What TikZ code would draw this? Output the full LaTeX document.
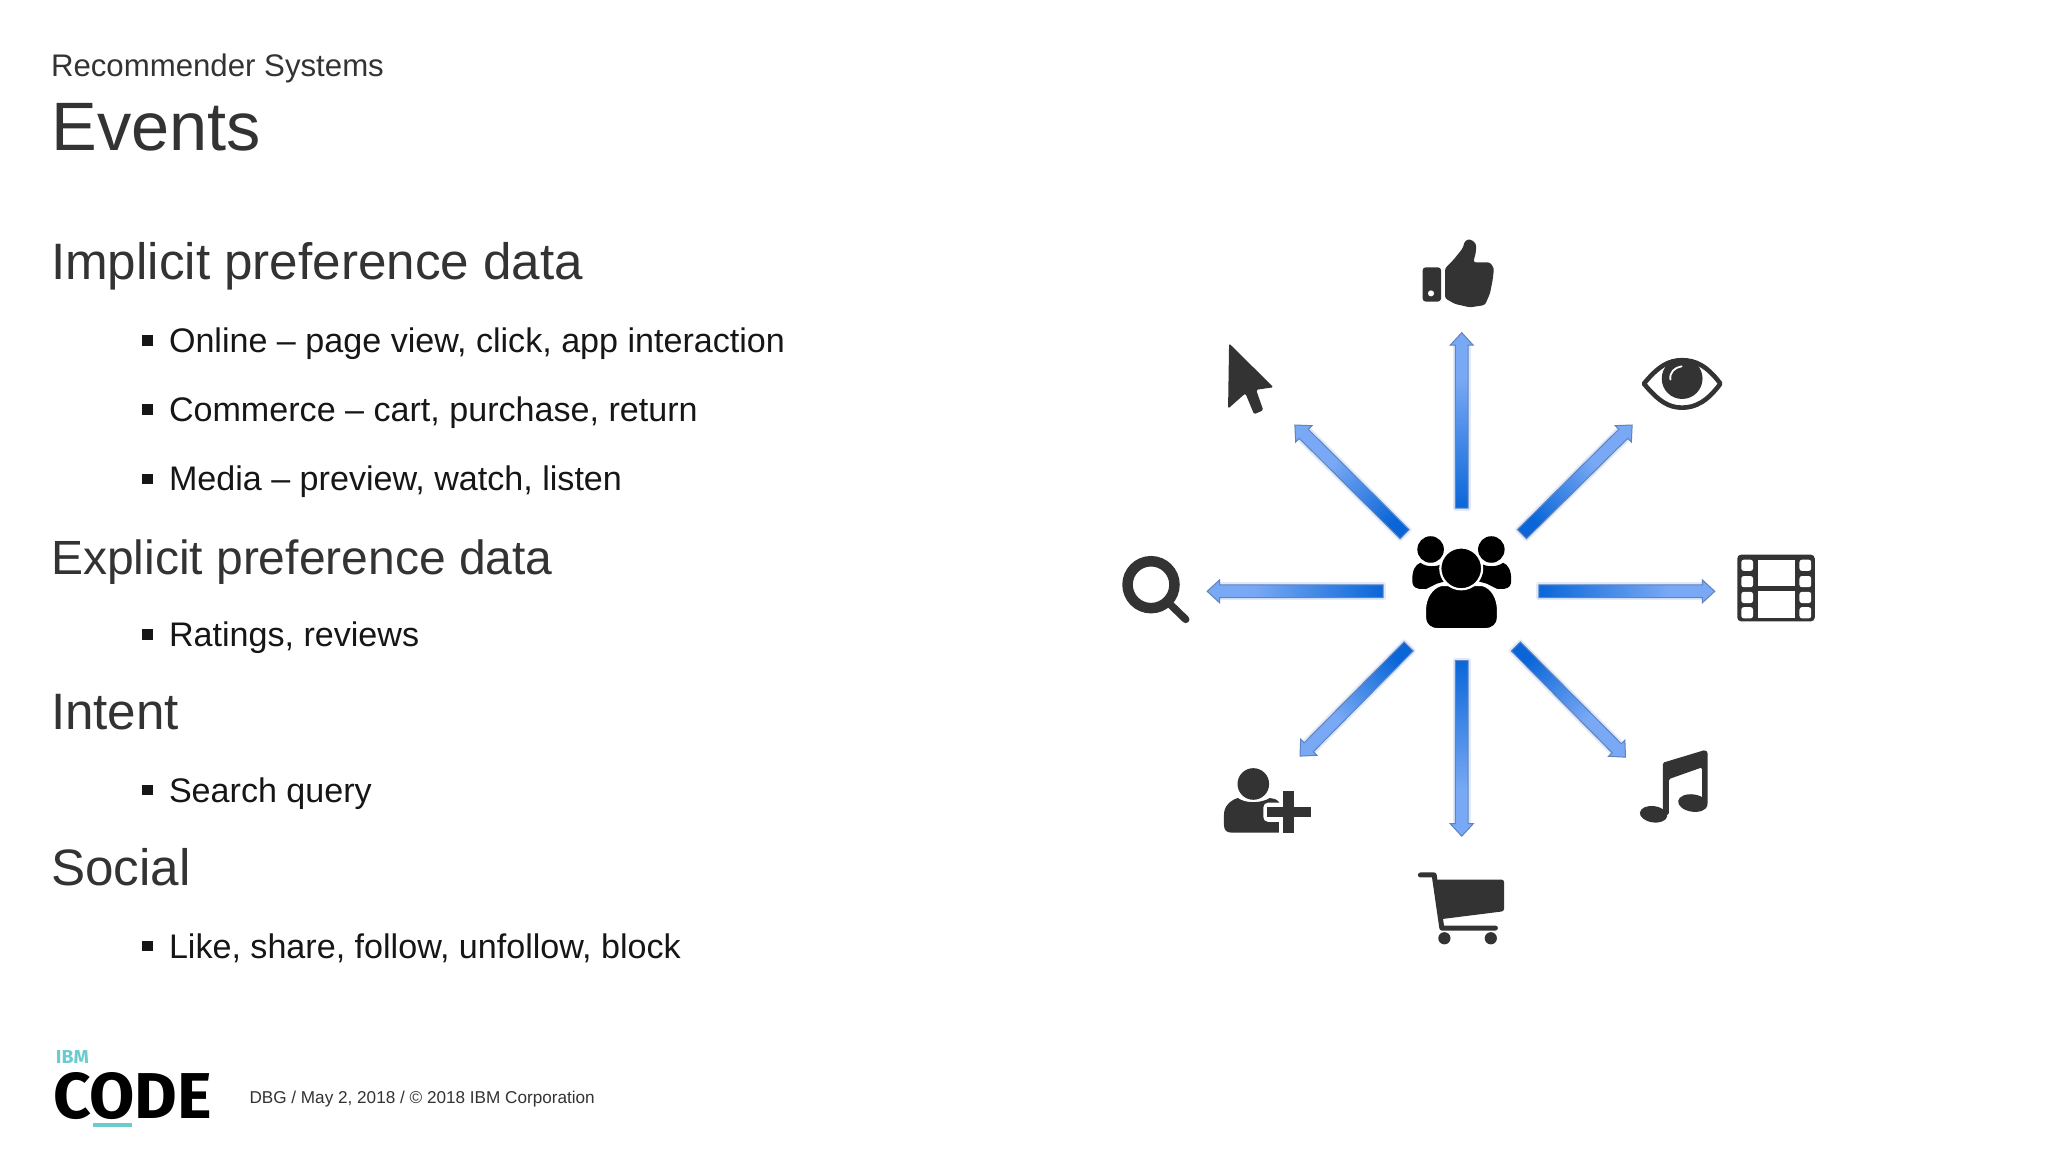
\documentclass[tikz,border=0pt]{standalone}
\usepackage{fontspec}
\setmainfont{Liberation Sans}
\newfontfamily\logofont{Fira Sans}
\usetikzlibrary{calc}
\definecolor{ink}{HTML}{333333}
\definecolor{txt}{HTML}{161616}
\definecolor{adark}{HTML}{0A66D8}
\definecolor{alight}{HTML}{79A9F4}
\definecolor{aedge}{HTML}{5F82C0}
\definecolor{aglow}{HTML}{8FB2EA}
\definecolor{teal}{HTML}{6CCBCF}
\pgfdeclarehorizontalshading{arrowgrad}{100bp}{color(0bp)=(adark); color(25bp)=(adark); color(62bp)=(alight); color(100bp)=(alight)}
\tikzset{
  px/.style={x=1pt,y=-1pt},
  zoomed/.style={shift={(1100,200)},x=0.5102pt,y=-0.5102pt},
  lab/.style={inner sep=0pt,outer sep=0pt,anchor=base west},
  head/.style={lab,text=ink,font=\fontsize{51.2}{60}\selectfont},
  item/.style={lab,text=txt,font=\fontsize{34.1}{40}\selectfont},
  bul/.style={inner sep=0pt,minimum size=10.5pt,fill=txt,anchor=center},
  icon/.style={fill=ink,draw=none},
  cut/.style={fill=white,draw=none},
}
% \fancyarrow{id}{start}{end}{paper angle}
\newcommand{\fancyarrow}[4]{
  \coordinate (#1s) at #2;
  \coordinate (#1e) at #3;
  \coordinate (#1n) at ($(#1e)!12.5pt!(#1s)$);
  \coordinate (#1a) at ($(#1s)!6.4pt!90:(#1e)$);
  \coordinate (#1b) at ($(#1s)!6.4pt!-90:(#1e)$);
  \coordinate (#1c) at ($(#1n)!6.4pt!-90:(#1e)$);
  \coordinate (#1d) at ($(#1n)!11.5pt!-90:(#1e)$);
  \coordinate (#1f) at ($(#1n)!11.5pt!90:(#1e)$);
  \coordinate (#1g) at ($(#1n)!6.4pt!90:(#1e)$);
  \draw[line width=5pt,aglow,opacity=.28,line join=round] (#1a)--(#1g)--(#1c)--(#1b)--cycle;
  \path[shading=arrowgrad,shading angle=#4,draw=aedge,line width=1pt,line join=miter]
    (#1a)--(#1g)--(#1f)--(#1e)--(#1d)--(#1c)--(#1b)--cycle;
}
\begin{document}
\begin{tikzpicture}[px]
\useasboundingbox[fill=white] (0,0) rectangle (2048,1152);
% text
\node[lab,text=ink,font=\fontsize{31.2}{36}\selectfont] (sup) at (51,76) {Recommender Systems};
\node[lab,text=ink,font=\fontsize{68.5}{76}\selectfont] (ttl) at (51.5,150) {Events};
\node[head] (h1) at (51,279) {Implicit preference data};
\node[item] (i1) at (169,352.4) {Online – page view, click, app interaction};
\node[item] (i2) at (169,421.5) {Commerce – cart, purchase, return};
\node[item] (i3) at (169,490.5) {Media – preview, watch, listen};
\node[head,font=\fontsize{48}{56}\selectfont] (h2) at (51,574) {Explicit preference data};
\node[item] (i4) at (169,646.5) {Ratings, reviews};
\node[head] (h3) at (51,729) {Intent};
\node[item] (i5) at (169,802) {Search query};
\node[head] (h4) at (51,885.5) {Social};
\node[item] (i6) at (169,958) {Like, share, follow, unfollow, block};
\foreach \n/\y in {b1/340.5,b2/409.5,b3/479,b4/634.5,b5/790,b6/946}
  \node[bul] (\n) at (147.5,\y) {};
% footer
\node[lab,text=teal,font=\logofont\bfseries] (ibm) at (56,1063) {\resizebox{33pt}{13pt}{IBM}};
\node[lab,text=black,font=\logofont\bfseries] (code) at (53,1118) {\resizebox{159pt}{46pt}{CODE}};
\fill[teal] (93,1123) rectangle (132,1126.5);
\node[lab,text=ink,font=\fontsize{17.15}{20}\selectfont] (foot) at (249.5,1103) {DBG / May 2, 2018 / © 2018 IBM Corporation};
% diagram
\begin{scope}[zoomed]
\fancyarrow{au}{(709,604)}{(709,260)}{90}
\fancyarrow{ad}{(709,903)}{(709,1247)}{-90}
\fancyarrow{al}{(555,767)}{(210,767)}{180}
\fancyarrow{ar}{(860,767)}{(1205,767)}{0}
\fancyarrow{aul}{(597,655)}{(382,441)}{135}
\fancyarrow{aur}{(827,655)}{(1043,441)}{45}
\fancyarrow{adl}{(605,875)}{(392,1090)}{-135}
\fancyarrow{adr}{(815,875)}{(1030,1092)}{-45}
% thumb
\fill[icon,rounded corners=3pt] (632.4,132) rectangle (668.4,199);
\fill[cut] (648.8,183) circle [radius=6];
\fill[icon,rounded corners=2.5pt] (676.2,134) -- (692.5,117.6) -- (710.8,94.7) -- (715.4,79.7) -- (725.2,76.4) -- (737,85) -- (737,101.3) -- (731.7,122.2) -- (764.4,122.2) -- (772.2,134) -- (769.6,156.8) -- (764.4,183) -- (754.6,205.8) -- (725.2,210.4) -- (695.8,203.8) -- (676.2,192.7) -- cycle;
% cursor
\fill[icon,rounded corners=1.5pt] (253,281) -- (340,367) -- (306,372) -- (320,412) -- (302,420) -- (285,379) -- (251,409) -- cycle;
% eye
\draw[ink,line width=4.6pt,line join=round] (1066,360) .. controls (1095,325) and (1115,314) .. (1141,314) .. controls (1167,314) and (1190,325) .. (1216,360) .. controls (1190,395) and (1167,407) .. (1141,407) .. controls (1115,407) and (1095,395) .. (1066,360) -- cycle;
\fill[icon] (1141,350) circle [radius=40];
\draw[white,line width=1.8pt,line cap=round] (1118,352) .. controls (1116,338) and (1126,328) .. (1140,326);
% film
\fill[icon,rounded corners=4pt] (1249,695) rectangle (1401,826);
\foreach \a/\b in {705/727,737/759,768/790,798/820}{
  \fill[cut,rounded corners=2.5pt] (1257,\a) rectangle (1280,\b);
  \fill[cut,rounded corners=2.5pt] (1371,\a) rectangle (1394,\b);
}
\fill[cut] (1290,705) rectangle (1362,756);
\fill[cut] (1290,766) rectangle (1362,820);
% search
\draw[ink,line width=10.5pt] (100,754) circle [radius=46];
\draw[ink,line width=7.5pt,line cap=round] (137,792) -- (168,822);
% person plus
\fill[icon] (300.5,1144.6) circle [radius=31];
\fill[icon] (243,1225) -- (243,1205) .. controls (243,1188) and (255,1177) .. (270,1172) .. controls (285,1183) and (315,1183) .. (333,1172) .. controls (340,1172) and (347,1175) .. (351.5,1181) -- (351.5,1240) -- (258,1240) .. controls (248,1240) and (243,1235) .. (243,1225) -- cycle;
\fill[cut,rounded corners=5pt] (320,1181) rectangle (362,1219);
\fill[cut] (351.5,1212) rectangle (362,1245);
\fill[icon] (359.3,1157.7) rectangle (380.2,1240);
\fill[icon] (328,1189) rectangle (413,1210);
% music
\fill[icon,rotate around={-8:(1085,1204)}] (1085,1204) ellipse [x radius=27,y radius=16];
\fill[icon,rotate around={-8:(1162,1182)}] (1162,1182) ellipse [x radius=29,y radius=17];
\fill[icon,rounded corners=1.5pt] (1103,1205) -- (1103,1103) -- (1186,1078) -- (1191,1082) -- (1191,1185) -- (1180,1185) -- (1180,1112) -- (1115,1135) -- (1115,1205) -- cycle;
% cart
\fill[icon,rounded corners=2.5pt] (652,1332) -- (792,1332) -- (792,1394) -- (665,1410) -- cycle;
\draw[ink,line width=5pt,line cap=round,line join=round] (628,1323) -- (655,1323) -- (670,1427) -- (775,1427);
\fill[icon] (675,1447) circle [radius=12];
\fill[icon] (766,1447) circle [radius=12];
% people
\fill[black] (648,685) circle [radius=26];
\fill[black] (767,685) circle [radius=26];
\fill[black] (612,745) .. controls (612,725) and (618,715) .. (628,711) .. controls (640,720) and (660,720) .. (672,712) -- (685,745) -- (660,752) -- (640,762) -- (625,762) .. controls (615,760) and (612,755) .. (612,745) -- cycle;
\fill[black] (806,745) .. controls (806,725) and (800,715) .. (790,711) .. controls (778,720) and (758,720) .. (746,712) -- (733,745) -- (758,752) -- (778,762) -- (793,762) .. controls (803,760) and (806,755) .. (806,745) -- cycle;
\fill[black,draw=white,line width=2pt] (637,805) .. controls (637,780) and (650,760) .. (668,755) -- (750,755) .. controls (768,760) and (780,780) .. (780,805) -- (780,818) .. controls (780,832) and (770,841) .. (755,841) -- (662,841) .. controls (647,841) and (637,832) .. (637,818) -- cycle;
\fill[black,draw=white,line width=2.2pt] (708,722) circle [radius=41];
\end{scope}
\end{tikzpicture}
\end{document}
